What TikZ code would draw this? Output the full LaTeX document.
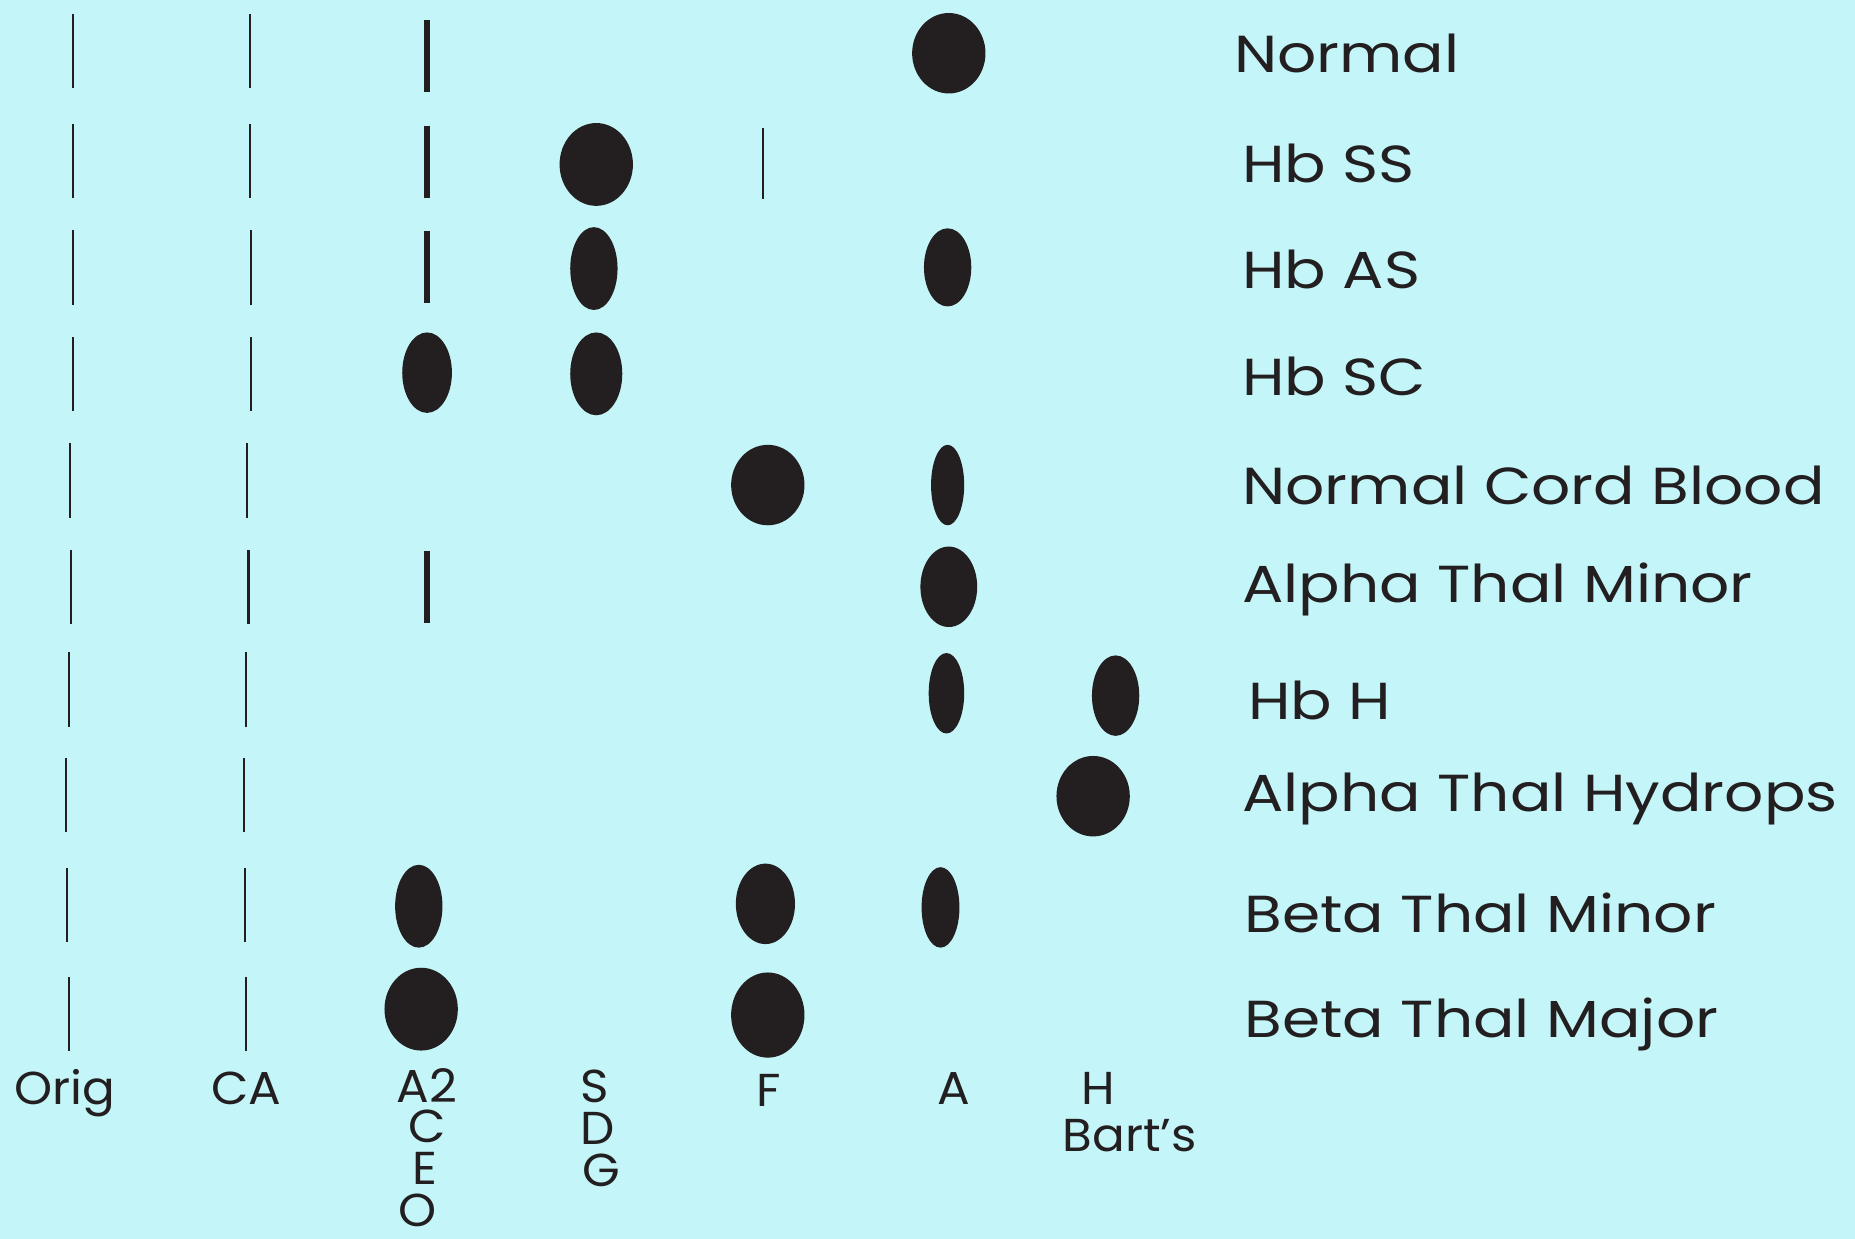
\documentclass[tikz,border=0pt]{standalone}
\usepackage{fontspec}
\setmainfont{Poppins}
\newfontfamily\rowfam{Poppins}[FakeStretch=1.18]
\newfontfamily\colfam{Poppins}[FakeStretch=1.05]
\usetikzlibrary{shapes.geometric}
\definecolor{paper}{RGB}{196,245,248}
\definecolor{ink}{RGB}{35,31,32}
\newcommand\rowfont{\rowfam\fontsize{44pt}{48pt}\selectfont}
\newcommand\colfont{\colfam\fontsize{39pt}{35pt}\selectfont}
\begin{document}
\begin{tikzpicture}[x=1pt,y=-1pt,
  spot/.style={ellipse, fill=ink, draw=none, inner sep=0pt},
  lane/.style={rectangle, fill=ink, draw=none, inner sep=0pt, minimum width=1.8pt, minimum height=63pt},
  band/.style={rectangle, fill=ink, draw=none, inner sep=0pt, minimum width=5.5pt, minimum height=61pt},
  rowlabel/.style={anchor=west, inner sep=0pt, text=ink, font=\rowfont},
  collabel/.style={anchor=base, inner sep=0pt, text=ink, font=\colfont}]
\path[fill=paper] (0,0) rectangle (1568,1047);
\useasboundingbox (0,0) rectangle (1568,1047);
% origin lanes
\node[lane] (o1) at (62,43) {};
\node[lane] (o2) at (62,136) {};
\node[lane] (o3) at (62,226) {};
\node[lane] (o4) at (62,316) {};
\node[lane] (o5) at (59,406) {};
\node[lane] (o6) at (60,496) {};
\node[lane] (o7) at (58,583) {};
\node[lane] (o8) at (56,672) {};
\node[lane] (o9) at (57,765) {};
\node[lane] (o10) at (58,857) {};
% CA lanes
\node[lane] (c1) at (211,43) {};
\node[lane] (c2) at (211,136) {};
\node[lane] (c3) at (212,226) {};
\node[lane] (c4) at (212,316) {};
\node[lane] (c5) at (209,406) {};
\node[lane] (c6) at (210,496) {};
\node[lane] (c7) at (208,583) {};
\node[lane] (c8) at (206,672) {};
\node[lane] (c9) at (207,765) {};
\node[lane] (c10) at (208,857) {};
% A2 bands
\node[band] (a2r1) at (361,47) {};
\node[band] (a2r2) at (361,137) {};
\node[band] (a2r3) at (361,226) {};
\node[band] (a2r6) at (361,496) {};
% F faint line
\node[lane, minimum height=60pt] (fr2) at (645,138) {};
% spots
\node[spot, minimum width=62pt, minimum height=68pt] (ar1) at (802,45) {};
\node[spot, minimum width=62pt, minimum height=70pt] (sr2) at (504,139) {};
\node[spot, minimum width=40pt, minimum height=70pt] (sr3) at (502,227) {};
\node[spot, minimum width=40pt, minimum height=66pt] (ar3) at (801,226) {};
\node[spot, minimum width=42pt, minimum height=68pt] (a2r4) at (361,315) {};
\node[spot, minimum width=44pt, minimum height=70pt] (sr4) at (504,316) {};
\node[spot, minimum width=62pt, minimum height=68pt] (fr5) at (649,410) {};
\node[spot, minimum width=28pt, minimum height=68pt] (ar5) at (801,410) {};
\node[spot, minimum width=48pt, minimum height=68pt] (ar6) at (802,496) {};
\node[spot, minimum width=30pt, minimum height=68pt] (ar7) at (800,586) {};
\node[spot, minimum width=40pt, minimum height=68pt] (hr7) at (943,588) {};
\node[spot, minimum width=62pt, minimum height=68pt] (hr8) at (924,673) {};
\node[spot, minimum width=40pt, minimum height=70pt] (a2r9) at (354,766) {};
\node[spot, minimum width=50pt, minimum height=68pt] (fr9) at (647,764) {};
\node[spot, minimum width=32pt, minimum height=68pt] (ar9) at (795,767) {};
\node[spot, minimum width=62pt, minimum height=70pt] (a2r10) at (356,853) {};
\node[spot, minimum width=62pt, minimum height=72pt] (fr10) at (649,858) {};
% row labels
\node[rowlabel] (l1) at (1043,45) {Normal};
\node[rowlabel] (l2) at (1050,138) {Hb SS};
\node[rowlabel] (l3) at (1050,228) {Hb AS};
\node[rowlabel] (l4) at (1050,318) {Hb SC};
\node[rowlabel] (l5) at (1050,410) {Normal Cord Blood};
\node[rowlabel] (l6) at (1050,498) {Alpha Thal Minor};
\node[rowlabel] (l7) at (1055,592) {Hb H};
\node[rowlabel] (l8) at (1050,675) {Alpha Thal Hydrops};
\node[rowlabel] (l9) at (1052,772) {Beta Thal Minor};
\node[rowlabel] (l10) at (1052,866) {Beta Thal Major};
% column labels
\node[collabel] (kOrig) at (55,934) {Orig};
\node[collabel] (kCA) at (208,934) {CA};
\node[collabel] (kA2) at (361,932) {A2};
\node[collabel] (kC) at (361,966) {C};
\node[collabel] (kE) at (359,1001) {E};
\node[collabel] (kO) at (353,1037) {O};
\node[collabel] (kS) at (503,932) {S};
\node[collabel] (kD) at (505,967) {D};
\node[collabel] (kG) at (508,1003) {G};
\node[collabel] (kF) at (650,935) {F};
\node[collabel] (kA) at (806,934) {A};
\node[collabel] (kH) at (928,934) {H};
\node[collabel] (kBart) at (955,973) {Bart’s};
\end{tikzpicture}
\end{document}
